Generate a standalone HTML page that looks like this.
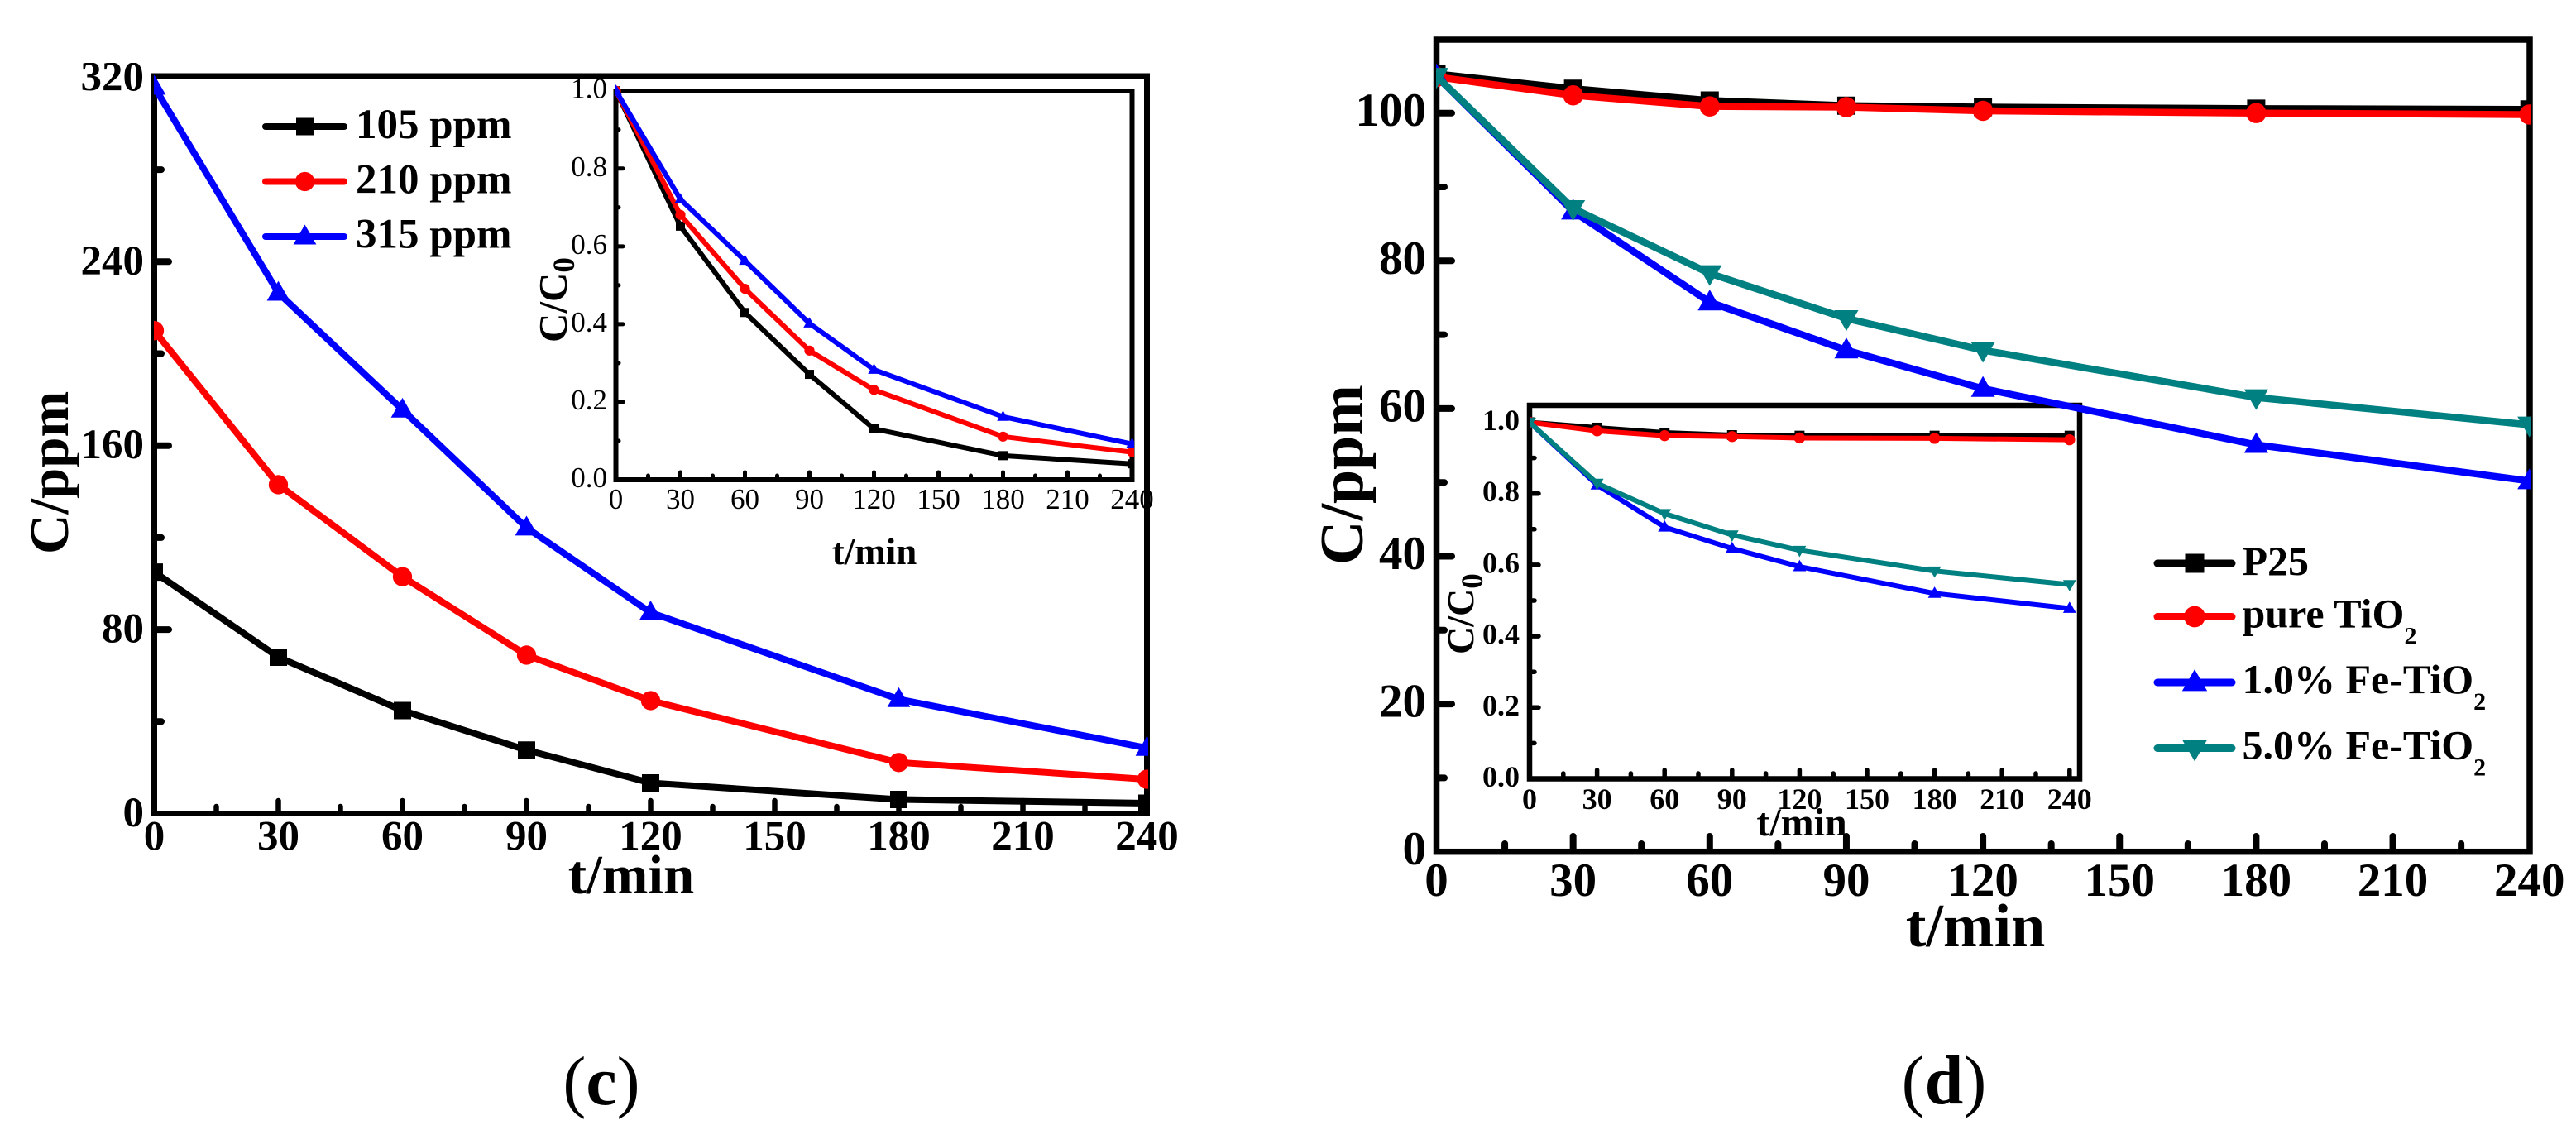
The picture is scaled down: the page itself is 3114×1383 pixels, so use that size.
<!DOCTYPE html>
<html lang="en">
<head>
<meta charset="utf-8">
<title>Concentration versus time, panels c and d</title>
<style>
html,body{margin:0;padding:0;background:#fff}
svg{display:block}
text{font-family:"Liberation Serif",serif;fill:#000}
.b{font-weight:bold}
</style>
</head>
<body>
<svg id="figure" xmlns="http://www.w3.org/2000/svg" width="3114" height="1383" viewBox="0 0 3114 1383">
<rect x="0" y="0" width="3114" height="1383" fill="#fff"/>
<defs>
<clipPath id="clip-c-main"><rect x="186" y="80" width="1202" height="910"/></clipPath>
<clipPath id="clip-c-inset"><rect x="744" y="100" width="627" height="490"/></clipPath>
<clipPath id="clip-d-main"><rect x="1736" y="40" width="1323" height="1000"/></clipPath>
<clipPath id="clip-d-inset"><rect x="1849" y="484" width="668" height="462"/></clipPath>
<clipPath id="clip-c-ylabels"><rect x="80" y="76" width="110" height="940"/></clipPath>
</defs>
<g id="panel-c-inset"></g>
<g id="panel-c-main"></g>
<g id="panel-d-inset"></g>
<g id="panel-d-main"></g>

<text class="b" font-size="67" transform="rotate(-90 82 670)" x="82" y="670">C/ppm</text>
<text class="b" font-size="67" text-anchor="middle" x="763" y="1080">t/min</text>
<text class="b" font-size="49" transform="rotate(-90 685 414)" x="685" y="414">C/C<tspan font-size="37" dy="9">0</tspan></text>
<text class="b" font-size="45" text-anchor="middle" x="1057" y="682">t/min</text>
<text font-size="84" text-anchor="middle" x="727" y="1335">(<tspan class="b">c</tspan>)</text>

<text class="b" font-size="74" transform="rotate(-90 1647 683)" x="1647" y="683">C/ppm</text>
<text class="b" font-size="74" text-anchor="middle" x="2388" y="1144">t/min</text>
<text class="b" font-size="46" transform="rotate(-90 1781 791)" x="1781" y="791">C/C<tspan font-size="37" dy="11">0</tspan></text>
<text class="b" font-size="48" text-anchor="middle" x="2178" y="1010">t/min</text>
<text font-size="84" text-anchor="middle" x="2350" y="1334">(<tspan class="b">d</tspan>)</text>

<g id="legend-c">
<text class="b" font-size="51" x="430" y="167">105 ppm</text>
<text class="b" font-size="51" x="430" y="233.5">210 ppm</text>
<text class="b" font-size="51" x="430" y="299.5">315 ppm</text>
</g>
<g id="legend-d">
<text class="b" font-size="50" x="2710.5" y="695">P25</text>
<text class="b" font-size="50" x="2710.5" y="758.5">pure TiO<tspan font-size="30" dy="20">2</tspan></text>
<text class="b" font-size="50" x="2710.5" y="838">1.0% Fe-TiO<tspan font-size="30" dy="20">2</tspan></text>
<text class="b" font-size="50" x="2710.5" y="917.5">5.0% Fe-TiO<tspan font-size="30" dy="20">2</tspan></text>
</g>
</svg>

<script>
// ---- data ----
const times = [0, 30, 60, 90, 120, 180, 240];

const cMain105 = [105, 68, 44.8, 27.6, 13.3, 6.1, 4.5];
const cMain210 = [210, 143, 103, 68.9, 49.1, 22.2, 14.9];
const cMain315 = [316, 226.4, 175.6, 124.3, 87.4, 49.7, 28.5];

const cInset105 = [1, 0.652, 0.43, 0.271, 0.131, 0.062, 0.041];
const cInset210 = [1, 0.681, 0.491, 0.332, 0.231, 0.111, 0.071];
const cInset315 = [1, 0.721, 0.563, 0.402, 0.283, 0.162, 0.092];

const dMainP25 = [105.3, 103.3, 101.7, 101, 100.8, 100.6, 100.5];
const dMainPure = [104.9, 102.4, 100.9, 100.8, 100.3, 100, 99.8];
const dMainFe1 = [105, 86.7, 74.4, 67.9, 62.7, 55.1, 50.2];
const dMainFe5 = [105, 87.1, 78.3, 72.2, 67.9, 61.5, 57.8];

const dInsetP25 = [1, 0.985, 0.971, 0.964, 0.9625, 0.9625, 0.9625];
const dInsetPure = [1, 0.976, 0.9625, 0.96, 0.956, 0.955, 0.951];
const dInsetFe1 = [1, 0.824, 0.706, 0.646, 0.595, 0.52, 0.478];
const dInsetFe5 = [1, 0.829, 0.744, 0.684, 0.641, 0.583, 0.545];

// ---- tick labels ----
const timeTickLabels = ["0", "30", "60", "90", "120", "150", "180", "210", "240"];
const timeMinorTicks = [15, 45, 75, 105, 135, 165, 195, 225];
const cMainYLabels = ["0", "80", "160", "240", "320"];
const cMainYMinor = [40, 120, 200, 280];
const dMainYLabels = ["0", "20", "40", "60", "80", "100"];
const dMainYMinor = [10, 30, 50, 70, 90];
const insetYLabels = ["0.0", "0.2", "0.4", "0.6", "0.8", "1.0"];
const insetYMinor = [0.1, 0.3, 0.5, 0.7, 0.9];

// ---- series colours ----
const black = "#000000", red = "#ff0000", blue = "#0000ff", teal = "#008080";

// ---- axis functions ----
const cMainX = t => 186.5 + 5 * t;
const cMainY = v => 983.5 - 2.78 * v;
const cInsetX = t => 744.5 + 2.6 * t;
const cInsetY = v => 580 - 470.3 * v;
const dMainX = t => 1736.5 + 5.505 * t;
const dMainY = v => 1029.7 - 8.93 * v;
const dInsetX = t => 1849 + 2.72 * t;
const dInsetY = v => 941.5 - 431 * v;

const NS = "http://www.w3.org/2000/svg";
function make(tag, parent, props) {
  const node = document.createElementNS(NS, tag);
  for (const k in props) node.setAttribute(k, props[k]);
  parent.appendChild(node);
  return node;
}
function markerPath(kind, x, y, s) {
  if (kind === "square") return `M${x-s} ${y-s}H${x+s}V${y+s}H${x-s}Z`;
  const r = s * 1.11;
  if (kind === "circle") return `M${x-r} ${y}A${r} ${r} 0 1 0 ${x+r} ${y}A${r} ${r} 0 1 0 ${x-r} ${y}Z`;
  const hw = s * 1.32, far = s * 1.38, near = s * 0.9;
  if (kind === "up") return `M${x} ${y-far}L${x+hw} ${y+near}H${x-hw}Z`;
  return `M${x} ${y+far}L${x+hw} ${y-near}H${x-hw}Z`;
}
function drawFrame(g, x0, y0, x1, y1, w) {
  const frame = make("rect", g, {x: x0, y: y0, width: x1 - x0, height: y1 - y0, fill: "none", stroke: "#000", "stroke-width": w});
  
  
}
function drawYTicks(g, ax, yFn, values, len, w) {
  values.forEach(v => {
    const tick = make("line", g, {x1: ax, x2: ax + len, y1: yFn(v), y2: yFn(v), stroke: "#000", "stroke-width": w, "stroke-linecap": "round"});
    
    
  });
}
function drawXTicks(g, ay, xFn, values, len, w) {
  values.forEach(t => {
    const tick = make("line", g, {x1: xFn(t), x2: xFn(t), y1: ay, y2: ay - len, stroke: "#000", "stroke-width": w, "stroke-linecap": "round"});
    
    
  });
}
function drawYLabels(g, labels, yFn, anchorX, dy, size, bold, clip) {
  labels.forEach(lab => {
    const t = make("text", g, {x: anchorX, y: yFn(+lab) + dy, "font-size": size, "text-anchor": "end"});
    if (bold) t.setAttribute("class", "b");
    if (clip) t.setAttribute("clip-path", clip);
    t.textContent = lab;
    
    
  });
}
function drawXLabels(g, labels, xFn, baseline, size, bold) {
  labels.forEach(lab => {
    const t = make("text", g, {x: xFn(+lab), y: baseline, "font-size": size, "text-anchor": "middle"});
    if (bold) t.setAttribute("class", "b");
    t.textContent = lab;
    
    
  });
}
function drawSeries(g, values, xFn, yFn, color, kind, width, size, clip) {
  const s = make("g", g, {"clip-path": clip});
  
  
  const pts = values.map((v, i) => xFn(times[i]) + "," + yFn(v)).join(" ");
  const line = make("polyline", s, {points: pts, fill: "none", stroke: color, "stroke-width": width, "stroke-linejoin": "round"});
  
  
  values.forEach((v, i) => {
    const m = make("path", s, {d: markerPath(kind, xFn(times[i]), yFn(v), size), fill: color});
    
    
  });
}
function drawLegendKey(g, x0, x1, y, color, kind, width, size) {
  const line = make("line", g, {x1: x0, x2: x1, y1: y, y2: y, stroke: color, "stroke-width": width, "stroke-linecap": "round"});
  
  
  const m = make("path", g, {d: markerPath(kind, (x0 + x1) / 2, y, size), fill: color});
  
  
}

// ---- panel c inset ----
const cIn = document.getElementById("panel-c-inset");
drawYLabels(cIn, insetYLabels, cInsetY, 734, 9, 35, false);
drawXLabels(cIn, timeTickLabels, cInsetX, 615, 35, false);
drawFrame(cIn, 744.5, 110, 1368.5, 580, 6);
drawYTicks(cIn, 745, cInsetY, [0.2, 0.4, 0.6, 0.8], 8, 5);
drawYTicks(cIn, 745, cInsetY, insetYMinor, 3, 5);
drawXTicks(cIn, 580, cInsetX, [30, 60, 90, 120, 150, 180, 210], 9, 5);
drawXTicks(cIn, 580, cInsetX, timeMinorTicks, 5, 5);
drawSeries(cIn, cInset105, cInsetX, cInsetY, black, "square", 6, 5.5, "url(#clip-c-inset)");
drawSeries(cIn, cInset210, cInsetX, cInsetY, red, "circle", 6, 5.5, "url(#clip-c-inset)");
drawSeries(cIn, cInset315, cInsetX, cInsetY, blue, "up", 6, 5.5, "url(#clip-c-inset)");

// ---- panel c main ----
const cM = document.getElementById("panel-c-main");
drawYLabels(cM, cMainYLabels, cMainY, 174, 15.5, 51, true, "url(#clip-c-ylabels)");
drawXLabels(cM, timeTickLabels, cMainX, 1027.5, 51, true);
drawFrame(cM, 186.5, 92, 1386.5, 983.5, 7);
drawYTicks(cM, 187, cMainY, [80, 160, 240], 17, 8);
drawYTicks(cM, 187, cMainY, cMainYMinor, 8, 8);
drawXTicks(cM, 983, cMainX, [30, 60, 90, 120, 150, 180, 210], 15, 6.5);
drawXTicks(cM, 983, cMainX, timeMinorTicks, 8, 6.5);
drawSeries(cM, cMain105, cMainX, cMainY, black, "square", 8, 10.5, "url(#clip-c-main)");
drawSeries(cM, cMain210, cMainX, cMainY, red, "circle", 8, 10.5, "url(#clip-c-main)");
drawSeries(cM, cMain315, cMainX, cMainY, blue, "up", 8, 10.5, "url(#clip-c-main)");

// ---- panel d inset ----
const dIn = document.getElementById("panel-d-inset");
drawYLabels(dIn, insetYLabels, dInsetY, 1837, 9.5, 36, true);
drawXLabels(dIn, timeTickLabels, dInsetX, 978, 36, true);
drawFrame(dIn, 1849, 490, 2514, 941.5, 6.5);
drawYTicks(dIn, 1850, dInsetY, [0, 0.2, 0.4, 0.6, 0.8], 10, 5.5);
drawYTicks(dIn, 1850, dInsetY, insetYMinor, 5, 5.5);
drawXTicks(dIn, 941, dInsetX, [30, 60, 90, 120, 150, 180, 210, 240], 10, 5.5);
drawXTicks(dIn, 941, dInsetX, timeMinorTicks, 6, 5.5);
drawSeries(dIn, dInsetP25, dInsetX, dInsetY, black, "square", 6, 6, "url(#clip-d-inset)");
drawSeries(dIn, dInsetPure, dInsetX, dInsetY, red, "circle", 6, 6, "url(#clip-d-inset)");
drawSeries(dIn, dInsetFe1, dInsetX, dInsetY, blue, "up", 6, 6, "url(#clip-d-inset)");
drawSeries(dIn, dInsetFe5, dInsetX, dInsetY, teal, "down", 6, 6, "url(#clip-d-inset)");

// ---- panel d main ----
const dM = document.getElementById("panel-d-main");
drawYLabels(dM, dMainYLabels, dMainY, 1724, 15.5, 57, true);
drawXLabels(dM, timeTickLabels, dMainX, 1083, 57, true);
drawFrame(dM, 1736.5, 48, 3058, 1029.7, 7.5);
drawYTicks(dM, 1737, dMainY, [20, 40, 60, 80, 100], 18, 8);
drawYTicks(dM, 1737, dMainY, dMainYMinor, 9, 8);
drawXTicks(dM, 1029, dMainX, [30, 60, 90, 120, 150, 180, 210], 18, 8);
drawXTicks(dM, 1029, dMainX, timeMinorTicks, 9, 8);
drawSeries(dM, dMainP25, dMainX, dMainY, black, "square", 8.5, 11, "url(#clip-d-main)");
drawSeries(dM, dMainPure, dMainX, dMainY, red, "circle", 8.5, 11, "url(#clip-d-main)");
drawSeries(dM, dMainFe1, dMainX, dMainY, blue, "up", 8.5, 11, "url(#clip-d-main)");
drawSeries(dM, dMainFe5, dMainX, dMainY, teal, "down", 8.5, 11, "url(#clip-d-main)");

// ---- legend keys ----
const legC = document.getElementById("legend-c");
drawLegendKey(legC, 321, 416, 153, black, "square", 8, 10.5);
drawLegendKey(legC, 321, 416, 219.5, red, "circle", 8, 10.5);
drawLegendKey(legC, 321, 416, 286, blue, "up", 8, 10.5);
const legD = document.getElementById("legend-d");
drawLegendKey(legD, 2608, 2698, 681, black, "square", 9, 11.5);
drawLegendKey(legD, 2608, 2698, 745.5, red, "circle", 9, 11.5);
drawLegendKey(legD, 2608, 2698, 825, blue, "up", 9, 11.5);
drawLegendKey(legD, 2608, 2698, 904.5, teal, "down", 9, 11.5);
</script>
</body>
</html>
